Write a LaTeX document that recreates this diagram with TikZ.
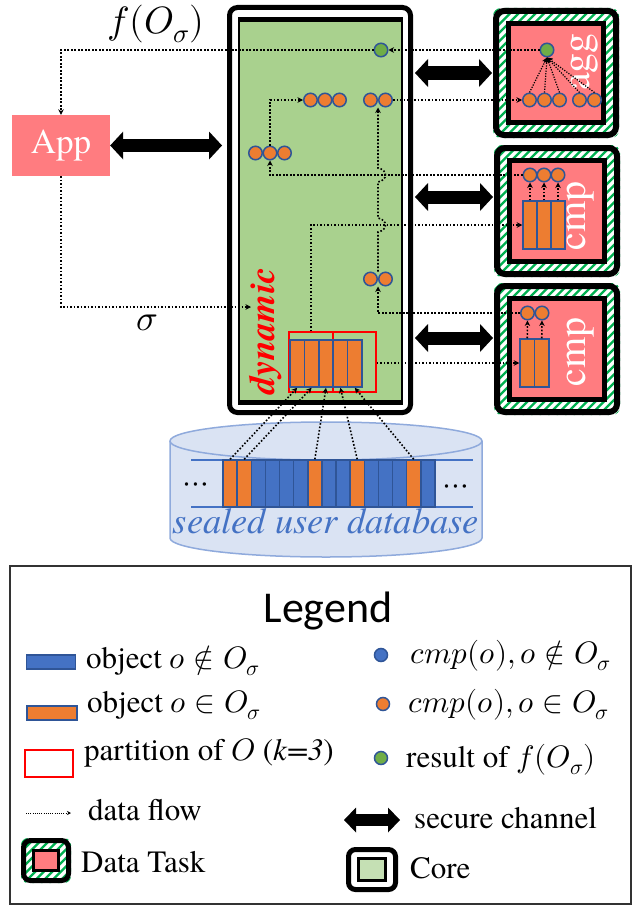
\documentclass[tikz,border=0pt]{standalone}
\usepackage{fontspec}
\usepackage{unicode-math}
\setmainfont{texgyretermes}[Extension=.otf, UprightFont=*-regular, BoldFont=*-bold, ItalicFont=*-italic, BoldItalicFont=*-bolditalic]
\setmathfont{Latin Modern Math}
\newfontfamily\legfont{Carlito}
\usetikzlibrary{arrows.meta,calc}
\definecolor{orng}{HTML}{ED7D31}
\definecolor{blu}{HTML}{4472C4}
\definecolor{cborder}{HTML}{2F5597}
\definecolor{grn}{HTML}{70AD47}
\definecolor{pinkf}{HTML}{FF7C80}
\definecolor{coreg}{HTML}{A9D18E}
\definecolor{legcore}{HTML}{C5E0B4}
\definecolor{dbfill}{HTML}{DAE3F3}
\definecolor{dbedge}{HTML}{8FAADC}
\definecolor{dbtext}{HTML}{4472C4}
\definecolor{stripegreen}{HTML}{00B050}
\newcommand\setfs[1]{\fontsize{#1}{#1}\selectfont}
% name, x1, y1, x2, y2, outer lw, inner inset, inner lw, radius
\newcommand\taskbox[9]{%
  \fill[white, rounded corners=#9pt] (#2,#3) rectangle (#4,#5);
  \begin{scope}
    \clip[rounded corners=#9pt] (#2,#3) rectangle (#4,#5);
    \foreach \k in {0,8.5,...,297.5} \draw[stripeline] ({#2-150+\k},#5) -- ++(150,-150);
  \end{scope}
  \draw[line width=#8pt, fill=pinkf] ({#2+#7},{#3+#7}) rectangle ({#4-#7},{#5-#7});
  \node[draw, line width=#6pt, rounded corners=#9pt, minimum width={#4-#2-#6}, minimum height={#5-#3-#6}, inner sep=0pt] (#1) at ({(#2+#4)/2},{(#3+#5)/2}) {};
}
\begin{document}
\begin{tikzpicture}[x=1pt,y=-1pt,
  circ/.style={circle, draw=cborder, line width=1.5pt, minimum size=13.5pt, inner sep=0pt},
  oc/.style={circ, fill=orng},
  gc/.style={circ, fill=grn},
  bc/.style={circ, fill=blu},
  objcol/.style={rectangle, draw=cborder, line width=1.5pt, fill=orng, inner sep=0pt, minimum height=47pt},
  flow/.style={line width=1.6pt, dash pattern=on 1.6pt off 1.9pt, -{Stealth[length=5.5pt,width=5.5pt]}},
  dbl/.style={line width=13pt, {Triangle[length=13pt,width=28pt,line width=0pt]}-{Triangle[length=13pt,width=28pt,line width=0pt]}},
  stripeline/.style={draw=stripegreen, line width=2.3pt},
  lbl/.style={inner sep=0pt, anchor=base west, font=\setfs{31}},
]
\useasboundingbox (0,0) rectangle (633,907);

% ---------- database ----------
\fill[dbfill] (170,441) -- (170,538) arc[start angle=180, end angle=0, x radius=156, y radius=19] -- (482,441) arc[start angle=0, end angle=-180, x radius=156, y radius=19] -- cycle;
\draw[dbedge, line width=1.5pt] (170,441) -- (170,538) arc[start angle=180, end angle=0, x radius=156, y radius=19] -- (482,441);
\draw[dbedge, line width=1.5pt] (326,441) ellipse [x radius=156, y radius=19];
\draw[blu, line width=1.2pt] (191,460) -- (473,460);
\draw[blu, line width=1.2pt] (191,507) -- (473,507);
\foreach \i/\c in {1/orng,2/orng,3/blu,4/blu,5/blu,6/blu,7/orng,8/blu,9/blu,10/orng,11/blu,12/blu,13/blu,14/orng,15/blu}
  \node[objcol, fill=\c, minimum width=14.13pt] (db\i) at ({230.07+14.13*(\i-1)},483.5) {};
\node[font=\setfs{32}] (dotsL) at (196,488) {$\cdots$};
\node[font=\setfs{32}] (dotsR) at (456,490) {$\cdots$};
\node[text=dbtext, font=\itshape\setfs{36.5}, anchor=base, inner sep=0pt] (dbtxt) at (326,533) {sealed user database};

% ---------- core ----------
\node[draw, line width=5pt, rounded corners=8pt, fill=white, minimum width=181pt, minimum height=405pt, inner sep=0pt] (coreout) at (320,210) {};
\fill[black] (238,17) rectangle (403,405);
\fill[coreg] (240,22) rectangle (401,400);

% ---------- app ----------
\node[fill=pinkf, text=white, minimum width=98pt, minimum height=61pt, font=\setfs{35}] (app) at (61,145.5) {App};

% ---------- data tasks ----------
\taskbox{aggbox}{493}{8}{619}{138}{6}{15.5}{5}{8}
\taskbox{cmpa}{494}{145}{620}{277}{6}{15.5}{5}{8}
\taskbox{cmpb}{494}{283}{620}{415}{6}{15.5}{5}{8}
\node[rotate=90, text=white, font=\setfs{40}, inner sep=0pt] (aggtxt) at (585,62) {agg};
\node[rotate=90, text=white, font=\setfs{40}, inner sep=0pt] (cmptxta) at (581,216) {cmp};
\node[rotate=90, text=white, font=\setfs{40}, inner sep=0pt] (cmptxtb) at (581,352) {cmp};

% ---------- secure channels ----------
\draw[dbl, shorten >=5pt] (app.east) -- (app.east -| coreout.west);
\draw[dbl, shorten <=2pt, shorten >=1pt] (coreout.east |- aggbox.west) -- (aggbox.west);
\draw[dbl, shorten <=2pt, shorten >=1pt] ($(coreout.east |- cmpa.west)+(0,-14)$) -- ($(cmpa.west)+(0,-14)$);
\draw[dbl, shorten <=2pt, shorten >=1pt] ($(coreout.east |- cmpb.west)+(0,-11)$) -- ($(cmpb.west)+(0,-11)$);

% ---------- core contents ----------
\node[rotate=90, text=red, font=\bfseries\itshape\setfs{36}] (dyn) at (266,331) {dynamic};
\node[draw=red, line width=1.5pt, minimum width=44pt, minimum height=60pt, inner sep=0pt] (pr1) at (311,362) {};
\node[draw=red, line width=1.5pt, minimum width=43pt, minimum height=60pt, inner sep=0pt] (pr2) at (354.5,362) {};
\foreach \i in {1,...,5}
  \node[objcol, minimum width=14.4pt] (p\i) at ({297.2+14.4*(\i-1)},363.5) {};

\node[gc] (g0) at (381,50) {};
\node[oc] (a1) at (310.5,100) {};
\node[oc] (a2) at (325,100) {};
\node[oc] (a3) at (339.5,100) {};
\node[oc] (b1) at (370.5,100) {};
\node[oc] (b2) at (385.5,100) {};
\node[oc] (c1) at (255.5,153) {};
\node[oc] (c2) at (270,153) {};
\node[oc] (c3) at (284.5,153) {};
\node[oc] (d1) at (370.5,279) {};
\node[oc] (d2) at (385.5,279) {};

% agg contents
\node[gc] (ag) at (547,50) {};
\node[oc] (t1) at (529.5,100) {};
\node[oc] (t2) at (544.5,100) {};
\node[oc] (t3) at (559.5,100) {};
\node[oc] (t4) at (579.5,100) {};
\node[oc] (t5) at (594.5,100) {};
\foreach \i in {1,...,5}
  \draw[flow, line width=1.2pt, dash pattern=on 1.2pt off 1.4pt] (t\i.north) -- (ag.south);

% cmp A contents
\foreach \i in {1,2,3} {
  \node[objcol, minimum width=14pt, minimum height=48pt] (kc\i) at ({530+14*(\i-1)},225) {};
  \node[oc] (k\i) at ({530+14*(\i-1)},175) {};
  \draw[flow] (kc\i.north) -- (k\i.south);
}
% cmp B contents
\foreach \i in {1,2} {
  \node[objcol, minimum width=14.5pt, minimum height=48pt] (mc\i) at ({527.25+14.5*(\i-1)},363) {};
  \node[oc] (m\i) at ({527.5+14.5*(\i-1)},313) {};
  \draw[flow] (mc\i.north) -- (m\i.south);
}

% ---------- data flows ----------
\coordinate (sig) at (251,307);
\draw[flow] (g0.west) -| (app.north);
\draw[flow] (ag.west) -- (g0.east);
\draw[flow] (app.south) |- (sig);
\draw[flow] (c2.north) |- (a1.west);
\draw[flow] (k1.west) -| (c2.south);
\draw[flow] (pr1.north) |- (kc1.west);
\draw[flow] (m1.west) -| ($(d1.south)!.5!(d2.south)$);
\draw[flow] ($(d1.north)!.5!(d2.north)$) -- (378,232) .. controls (388,230) and (388,220) .. (378,218) -- (378,182) .. controls (388,180) and (388,170) .. (378,168) -- ($(b1.south)!.5!(b2.south)$);
\draw[flow] (pr2.east |- mc1.west) -- (mc1.west);
\draw[flow] (b2.east) -- (t1.west);
\foreach \a/\b in {1/1,2/2,7/3,10/4,14/5}
  \draw[flow] (db\a.north) -- (p\b.south);

% ---------- labels ----------
\node[font=\setfs{38}] (flab) at (156,24) {$f(O_\sigma)$};
\node[font=\setfs{36}] (siglab) at (147,323) {$\sigma$};

% ---------- legend ----------
\draw[line width=1.5pt, draw=black!80] (10,566) rectangle (631,904);
\node[font=\legfont\setfs{44}, anchor=base, inner sep=0pt] (legtitle) at (328,622) {Legend};
\node[objcol, fill=blu, minimum width=49pt, minimum height=14pt] (lgblue) at (50.75,662) {};
\node[lbl] (tblue) at (86,668) {object $o \notin O_\sigma$};
\node[objcol, minimum width=50pt, minimum height=14pt] (lgor) at (52,713) {};
\node[lbl] (tor) at (87,712) {object $o \in O_\sigma$};
\node[draw=red, line width=1.5pt, minimum width=48pt, minimum height=27pt, inner sep=0pt] (lgred) at (49,763.5) {};
\node[lbl] (tred) at (84,760) {partition of $O$ (\textit{k=3})};
\coordinate (lf1) at (26,813);
\coordinate (lf2) at (71,813);
\draw[line width=1pt, dash pattern=on 1pt off 1.2pt, -{Stealth[length=4pt,width=4pt]}] (lf1) -- (lf2);
\node[lbl] (tflow) at (88,820) {data flow};
\taskbox{lgtask}{21}{838}{71}{883}{5}{12.5}{3}{7}
\node[lbl] (ttask) at (81,872) {Data Task};
\node[bc, minimum size=13pt] (lgb) at (381,655) {};
\node[lbl] (tlgb) at (410,663) {$cmp(o), o \notin O_\sigma$};
\node[oc, minimum size=13pt] (lgo) at (383,704) {};
\node[lbl] (tlgo) at (408,712) {$cmp(o), o \in O_\sigma$};
\node[gc, minimum size=13pt] (lgg) at (381,758) {};
\node[lbl] (tlgg) at (406,767) {result of $f(O_\sigma)$};
\coordinate (sc1) at (344,820);
\coordinate (sc2) at (400,820);
\draw[line width=12pt, {Triangle[length=12pt,width=25pt,line width=0pt]}-{Triangle[length=12pt,width=25pt,line width=0pt]}] (sc1) -- (sc2);
\node[lbl] (tsc) at (414,828) {secure channel};
\node[draw, line width=5pt, rounded corners=7pt, fill=white, minimum width=47pt, minimum height=40pt, inner sep=0pt] (lgcore) at (372,869.5) {};
\node[draw, line width=3pt, fill=legcore, minimum width=27pt, minimum height=22pt, inner sep=0pt] (lgcorein) at (372,869.5) {};
\node[lbl] (tcore) at (410,878) {Core};
\end{tikzpicture}
\end{document}
